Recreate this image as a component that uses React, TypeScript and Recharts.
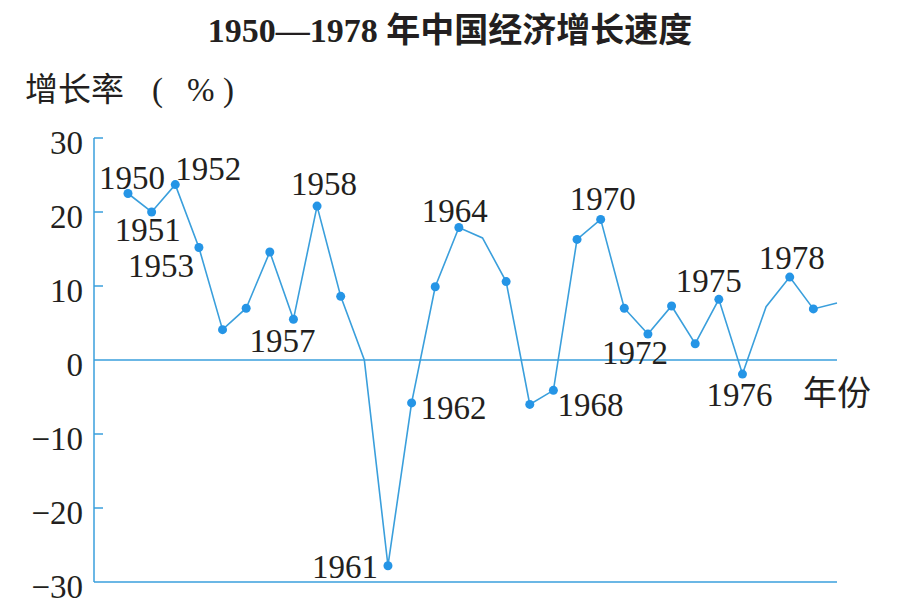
import { LabelList, Line, LineChart, ReferenceLine, XAxis, YAxis } from "recharts";

// yearly GDP growth (1979/1980 continue past the last label)
const years = [
  1950, 1951, 1952, 1953, 1954, 1955, 1956, 1957, 1958, 1959, 1960, 1961, 1962, 1963, 1964, 1965,
  1966, 1967, 1968, 1969, 1970, 1971, 1972, 1973, 1974, 1975, 1976, 1977, 1978, 1979, 1980,
];
const growthRates = [
  22.5, 20.0, 23.7, 15.2, 4.1, 7.0, 14.6, 5.5, 20.8, 8.6, 0.0, -27.8, -5.8, 9.9, 17.9, 16.5,
  10.6, -6.0, -4.1, 16.3, 19.0, 7.0, 3.5, 7.3, 2.2, 8.2, -1.9, 7.2, 11.2, 6.9, 7.7,
];
const labeledYears = [1950, 1951, 1952, 1953, 1957, 1958, 1961, 1962, 1964, 1968, 1970, 1972, 1975, 1976, 1978];
const undottedYears = [1960, 1965, 1977, 1980];
const yTicks = [30, 20, 10, 0, -10, -20, -30];

const LINE_BLUE = "#3a9fdc";
const DOT_BLUE = "#2595e6";
const INK = "#231f20";
const SERIF = '"Liberation Serif", "Times New Roman", serif';
const CJK = '"Liberation Serif", "Noto Sans CJK SC", sans-serif';

// centre of each year label relative to its dot, in px
const labelOffsets: Record<number, [number, number]> = {
  1950: [4, -16],
  1951: [-4, 18],
  1952: [33, -16],
  1953: [-38, 18],
  1957: [-11, 22],
  1958: [7, -22],
  1961: [-43, 1],
  1962: [42, 5],
  1964: [-4, -17],
  1968: [37, 15],
  1970: [2, -20],
  1972: [-13, 19],
  1975: [-10, -18],
  1976: [-3, 21],
  1978: [2, -19],
};

const data = years.map((year, i) => ({ year, rate: growthRates[i] }));

function formatTick(v: number): string {
  return v < 0 ? `\u2212${Math.abs(v)}` : String(v);
}

function YTick({ x, y, payload }: any) {
  const v = payload.value as number;
  const axisX = x + 11;
  return (
    <g>
      {v !== 0 && v !== -30 && (
        <line x1={axisX} x2={axisX + 9} y1={y} y2={y} stroke={LINE_BLUE} strokeWidth={1.5} />
      )}
      <text x={x} y={y + 16} textAnchor="end" fontFamily={SERIF} fontSize={33} fill={INK}>
        {formatTick(v)}
      </text>
    </g>
  );
}

function renderDot(props: any) {
  const { cx, cy, payload, index } = props;
  if (undottedYears.includes(payload.year)) return <g key={`dot-${index}`} />;
  return <circle key={`dot-${index}`} cx={cx} cy={cy} r={4.5} fill={DOT_BLUE} />;
}

function YearLabel(props: any) {
  const { x, y, value } = props;
  if (!labeledYears.includes(value)) return null;
  const [dx, dy] = labelOffsets[value];
  return (
    <text x={x + dx} y={y + dy + 11} textAnchor="middle" fontFamily={SERIF} fontSize={33} fill={INK}>
      {value}
    </text>
  );
}

export default function App() {
  return (
    <div style={{ position: "absolute", left: 0, top: 0, width: 919, height: 616, background: "#fff" }}>
      <LineChart width={919} height={616} data={data} margin={{ top: 138, right: 82, bottom: 34, left: 14 }}>
        <XAxis type="number" dataKey="year" domain={[1950, 1980]} padding={{ left: 34, right: 0 }} hide />
        <YAxis
          domain={[-30, 30]}
          ticks={yTicks}
          width={80}
          tickSize={0}
          tickMargin={11}
          tickLine={false}
          axisLine={{ stroke: LINE_BLUE, strokeWidth: 1.5 }}
          tick={<YTick />}
          interval={0}
        />
        <ReferenceLine y={0} stroke={LINE_BLUE} strokeWidth={1.5} />
        <ReferenceLine y={-30} stroke={LINE_BLUE} strokeWidth={1.5} />
        <Line
          type="linear"
          dataKey="rate"
          stroke={LINE_BLUE}
          strokeWidth={1.6}
          dot={renderDot}
          activeDot={false}
          isAnimationActive={false}
        >
          <LabelList dataKey="year" content={<YearLabel />} />
        </Line>
      </LineChart>
      <svg width={919} height={616} style={{ position: "absolute", left: 0, top: 0, pointerEvents: "none" }}>
        <text x={450} y={42} textAnchor="middle" fontFamily={CJK} fontWeight="bold" fontSize={34} fill={INK}>
          1950—1978 年中国经济增长速度
        </text>
        <text y={101} fontFamily={CJK} fontSize={33} fill={INK}>
          <tspan x={25}>增长率</tspan>
          <tspan x={152}>(</tspan>
          <tspan x={187}>%</tspan>
          <tspan x={223}>)</tspan>
        </text>
        <text x={803} y={405} fontFamily={CJK} fontSize={34} fill={INK}>
          年份
        </text>
      </svg>
    </div>
  );
}
